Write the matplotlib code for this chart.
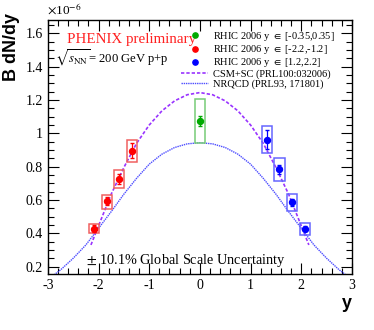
import matplotlib
matplotlib.use("Agg")
import matplotlib.pyplot as plt
from matplotlib.patches import Rectangle
from matplotlib.ticker import MultipleLocator
from matplotlib.lines import Line2D

plt.rcParams['font.family'] = ['Liberation Serif', 'DejaVu Serif']
plt.rcParams['mathtext.fontset'] = 'stix'

# data (units of 1e-6)
green_x = [0.0]
green_y = [1.075]
green_err = [0.03]
green_sys_lo = [0.94]
green_sys_hi = [1.205]

red_x = [-2.09, -1.84, -1.59, -1.34]
red_y = [0.428, 0.592, 0.727, 0.897]
red_err = [0.02, 0.025, 0.03, 0.047]
red_sys_lo = [0.40, 0.545, 0.67, 0.83]
red_sys_hi = [0.455, 0.63, 0.78, 0.96]

blue_x = [1.32, 1.57, 1.82, 2.07]
blue_y = [0.962, 0.784, 0.586, 0.428]
blue_err = [0.057, 0.028, 0.02, 0.015]
blue_sys_lo = [0.881, 0.713, 0.533, 0.388]
blue_sys_hi = [1.047, 0.853, 0.638, 0.464]

csm_x = [-2.15, -2.0, -1.75, -1.5, -1.25, -1.0, -0.75, -0.5, -0.25, 0.0,
         0.25, 0.5, 0.75, 1.0, 1.25, 1.5, 1.75, 2.0, 2.15]
csm_y = [0.33, 0.445, 0.635, 0.795, 0.94, 1.05, 1.135, 1.195, 1.232, 1.245,
         1.232, 1.195, 1.135, 1.05, 0.94, 0.795, 0.635, 0.445, 0.33]

nrqcd_x = [-2.88, -2.75, -2.5, -2.25, -2.0, -1.75, -1.5, -1.25, -1.0, -0.75, -0.5, -0.25, 0.0,
           0.25, 0.5, 0.75, 1.0, 1.25, 1.5, 1.75, 2.0, 2.25, 2.5, 2.75, 2.88]
nrqcd_y = [0.15, 0.18, 0.25, 0.33, 0.43, 0.53, 0.635, 0.73, 0.815, 0.875, 0.915, 0.937, 0.944,
           0.937, 0.915, 0.875, 0.815, 0.73, 0.635, 0.53, 0.43, 0.33, 0.25, 0.18, 0.15]

legend_labels = [r'RHIC 2006 y $\in$ [-0.35,0.35]', r'RHIC 2006 y $\in$ [-2.2,-1.2]',
                 r'RHIC 2006 y $\in$ [1.2,2.2]', 'CSM+SC (PRL100:032006)', 'NRQCD (PRL93, 171801)']

fig = plt.figure(figsize=(3.74, 3.30), dpi=100)
ax = fig.add_axes([0.128, 0.170, 0.813, 0.769])

box_hw = 0.1
def draw_set(xs, ys, errs, lo, hi, color, boxcolor):
    for x, l, h in zip(xs, lo, hi):
        ax.add_patch(Rectangle((x - box_hw, l), 2 * box_hw, h - l, fill=False,
                               edgecolor=boxcolor, linewidth=1.1, zorder=3))
    ax.errorbar(xs, ys, yerr=errs, fmt='o', color=color, ms=4.3, elinewidth=0.9,
                capsize=1.2, zorder=4)

l1 = ax.plot(csm_x, csm_y, color='#9933ff', lw=1.2, ls=(0, (2, 1.2)), zorder=2)[0]
l2 = ax.plot(nrqcd_x, nrqcd_y, color='#4d4dff', lw=1.0, ls=(0, (1, 0.6)), zorder=2)[0]

draw_set(green_x, green_y, green_err, green_sys_lo, green_sys_hi, '#00aa00', '#77cc77')
draw_set(red_x, red_y, red_err, red_sys_lo, red_sys_hi, '#ff0000', '#f06060')
draw_set(blue_x, blue_y, blue_err, blue_sys_lo, blue_sys_hi, '#0000ff', '#6666ff')

ax.set_xlim(-3, 3)
ax.set_ylim(0.156, 1.68)
ax.xaxis.set_major_locator(MultipleLocator(1))
ax.xaxis.set_minor_locator(MultipleLocator(0.2))
ax.yaxis.set_major_locator(MultipleLocator(0.2))
ax.yaxis.set_minor_locator(MultipleLocator(0.05))
ax.tick_params(which='both', direction='in', top=True, right=True, labelsize=10, width=0.8)
ax.tick_params(which='major', length=8)
ax.tick_params(which='minor', length=4)
ax.set_xticks([-3, -2, -1, 0, 1, 2, 3])
ax.set_xticklabels(['-3', '-2', '-1', '0', '1', '2', '3'])
ax.set_yticks([0.2, 0.4, 0.6, 0.8, 1.0, 1.2, 1.4, 1.6])
ax.set_yticklabels(['0.2', '0.4', '0.6', '0.8', '1', '1.2', '1.4', '1.6'])
for s in ax.spines.values():
    s.set_linewidth(1.0)

fig.text(0.032, 0.962, 'B dN/dy', rotation=90, ha='center', va='top',
         fontsize=13, fontweight='bold', family='Liberation Sans')
fig.text(0.941, 0.055, 'y', ha='right', va='bottom', fontsize=13,
         fontweight='bold', family='Liberation Sans')
fig.text(0.125, 0.97, r'$\times$10$^{-6}$', ha='left', va='center', fontsize=9.5)

ax.text(0.0625, 0.925, 'PHENIX preliminary', transform=ax.transAxes, color='#ff2020',
        fontsize=10.8, ha='left', va='center')
ax.text(0.023, 0.852, r'$\sqrt{s_{\rm NN}}$= 200 GeV p+p', transform=ax.transAxes,
        fontsize=9.1, ha='left', va='center')
ax.text(0.125, 0.051, r'$\pm$ 10.1% Global Scale Uncertainty', transform=ax.transAxes,
        fontsize=10.3, ha='left', va='center')

hg = Line2D([], [], marker='o', color='#00aa00', ls='none', ms=3.8)
hr = Line2D([], [], marker='o', color='#ff0000', ls='none', ms=3.8)
hb = Line2D([], [], marker='o', color='#0000ff', ls='none', ms=3.8)
leg = ax.legend([hg, hr, hb, l1, l2], legend_labels, loc='upper left',
                bbox_to_anchor=(0.435, 0.965), frameon=False, fontsize=7.5,
                handlelength=2.6, handletextpad=0.5, labelspacing=0.02, borderpad=0.1,
                borderaxespad=0.0)

fig.savefig('out.png', dpi=100)
